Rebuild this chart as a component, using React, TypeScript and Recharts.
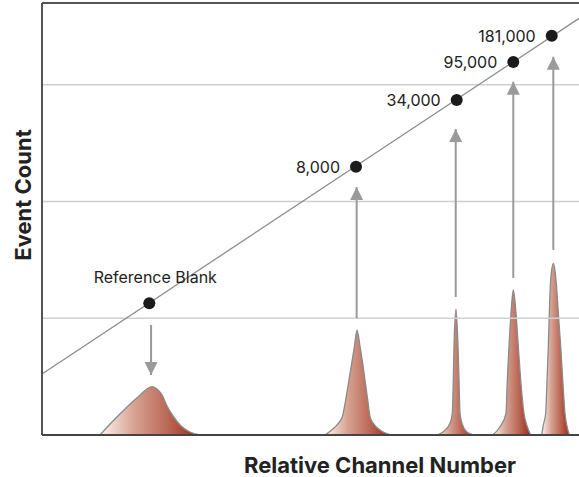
import React from 'react';
import {
  ComposedChart, Area, Line, Scatter, XAxis, YAxis, ReferenceLine,
} from 'recharts';

// calibration beads: channel position (x) and event count scale (y)
const calibX = [204.6, 598.8, 790.8, 898.7, 972];
const calibY = [112.8, 229.8, 286.9, 319.5, 342];
const calibLabels = ['Reference Blank', '8,000', '34,000', '95,000', '181,000'];

// fitted calibration line
const fitX = [0, 1024];
const fitY = [52.3, 356.8];

// histogram peaks [channel, count]
const peakBlank = [[110.6, 0], [133.5, 11.1], [158.3, 22.3], [183.1, 32.5], [209.8, 41.4], [221.2, 38.5], [228.8, 34.3], [238.4, 24.8], [249.8, 16.3], [265.1, 7.7], [282.2, 2.6], [301.3, 0]];
const peak8000 = [[539.7, 0], [552.4, 4.3], [565, 10], [572.7, 15.7], [579.1, 30], [585.4, 47.1], [590.6, 61.4], [595.6, 75.6], [600.7, 89.9], [606.5, 75.6], [611.5, 61.4], [615.9, 47.1], [621.1, 30], [625.5, 15.7], [631.8, 10], [644.6, 4.3], [666.9, 0]];
const peak34000 = [[752.6, 0], [765.2, 2.8], [778, 10], [782.4, 18.6], [784.3, 47.1], [785.6, 75.6], [789.4, 107.7], [793.3, 75.6], [795.2, 47.1], [797.1, 18.6], [800.9, 10], [809.9, 2.8], [822.5, 0]];
const peak95000 = [[859.4, 0], [873.4, 7.1], [884.8, 18.6], [887.3, 47.1], [890.5, 75.6], [894.3, 104.2], [898.7, 124.2], [903.9, 104.2], [908.3, 75.6], [912.8, 47.1], [919.1, 18.6], [925.4, 7.1], [931.9, 0]];
const peak181000 = [[952.9, 0], [956, 8.6], [960.5, 18.6], [963, 47.1], [965.5, 75.6], [967.4, 104.2], [970, 132.8], [975, 147], [980.2, 132.8], [984.6, 104.2], [989.1, 75.6], [993, 47.1], [997.3, 18.6], [1000.6, 8.6], [1005.5, 0]];
const peaks = [peakBlank, peak8000, peak34000, peak95000, peak181000];

// arrows from bead point to its peak
const arrowX = [208, 600, 788.9, 898.7, 975];
const arrowFrom = [94.2, 100.2, 118.2, 134.5, 158.5];
const arrowTo = [51.4, 212.4, 262.1, 302.6, 324];

const yTicks = [100, 200, 300];

const calibData = calibX.map((x, i) => ({ x, y: calibY[i], label: calibLabels[i] }));
const fitData = fitX.map((x, i) => ({ x, y: fitY[i] }));

const FONT = 'Inter, "Noto Sans", sans-serif';

const BeadPoint = (props: any) => {
  const { cx, cy, payload } = props;
  const first = payload.label === calibLabels[0];
  return (
    <g>
      <circle cx={cx} cy={cy} r={6} fill="#1b1b1b" />
      <text
        x={first ? cx + 6 : cx - 16}
        y={first ? cy - 20 : cy + 6}
        textAnchor={first ? 'middle' : 'end'}
        fontSize={16}
        fontFamily={FONT}
        fill="#222"
      >
        {payload.label}
      </text>
    </g>
  );
};

const arrowHead = (props: any) => {
  const { cx, cy, index, points } = props;
  if (index !== 1 || cx == null) return <g key={`a-${index}`} />;
  const up = points && points[0] && points[0].y > cy;
  const d = up ? 1 : -1;
  return (
    <path
      key={`a-${index}`}
      d={`M${cx},${cy} L${cx - 6.5},${cy + d * 13} L${cx + 6.5},${cy + d * 13} Z`}
      fill="#9a9a9a"
    />
  );
};

export default function App() {
  return (
    <div style={{ position: 'absolute', left: 0, top: 0, width: 579, height: 477, background: '#fff' }}>
      <ComposedChart width={579} height={477} margin={{ top: 3, right: 0, bottom: 42, left: 42 }}>
        <defs>
          <linearGradient id="peakFill" x1="0" y1="0" x2="1" y2="0">
            <stop offset="0%" stopColor="#fdf3ef" />
            <stop offset="35%" stopColor="#d6a090" />
            <stop offset="65%" stopColor="#bd6c5a" />
            <stop offset="100%" stopColor="#9c2a18" />
          </linearGradient>
        </defs>
        <XAxis
          type="number"
          dataKey="x"
          domain={[0, 1024]}
          height={0}
          tick={false}
          tickLine={false}
          axisLine={false}
          allowDataOverflow
        />
        <YAxis
          type="number"
          dataKey="y"
          domain={[0, 370]}
          ticks={yTicks}
          width={0}
          tick={false}
          tickLine={false}
          axisLine={false}
          allowDataOverflow
        />
        {yTicks.map((t) => (
          <ReferenceLine key={`g-${t}`} y={t} stroke="#cfcfcf" strokeWidth={1.5} />
        ))}
        {peaks.map((p, i) => (
          <Area
            key={`peak-${i}`}
            data={p.map(([x, y]) => ({ x, y }))}
            dataKey="y"
            type="monotone"
            fill="url(#peakFill)"
            fillOpacity={1}
            stroke="#8a8a8a"
            strokeWidth={1.3}
            baseValue={0}
            isAnimationActive={false}
          />
        ))}
        <Line
          data={fitData}
          dataKey="y"
          type="linear"
          stroke="#8c8c8c"
          strokeWidth={1.3}
          dot={false}
          activeDot={false}
          isAnimationActive={false}
        />
        {arrowX.map((x, i) => (
          <Line
            key={`arrow-${i}`}
            data={[{ x, y: arrowFrom[i] }, { x, y: arrowTo[i] }]}
            dataKey="y"
            type="linear"
            stroke="#9a9a9a"
            strokeWidth={2}
            dot={arrowHead}
            activeDot={false}
            isAnimationActive={false}
          />
        ))}
        <Scatter data={calibData} dataKey="y" shape={<BeadPoint />} isAnimationActive={false} />
        <ReferenceLine y={370} stroke="#555" strokeWidth={2} />
        <ReferenceLine x={0} stroke="#555" strokeWidth={2} />
        <ReferenceLine y={0} stroke="#444" strokeWidth={2} />
      </ComposedChart>
      <div
        style={{
          position: 'absolute', left: 180, width: 400, top: 454, textAlign: 'center', lineHeight: '22px',
          fontFamily: FONT, fontWeight: 700, fontSize: 22, color: '#222',
        }}
      >
        Relative Channel Number
      </div>
      <div
        style={{
          position: 'absolute', left: 23, top: 195, width: 200, marginLeft: -100, marginTop: -12,
          transform: 'rotate(-90deg)', textAlign: 'center', lineHeight: '24px',
          fontFamily: FONT, fontWeight: 700, fontSize: 22, color: '#222',
        }}
      >
        Event Count
      </div>
    </div>
  );
}
